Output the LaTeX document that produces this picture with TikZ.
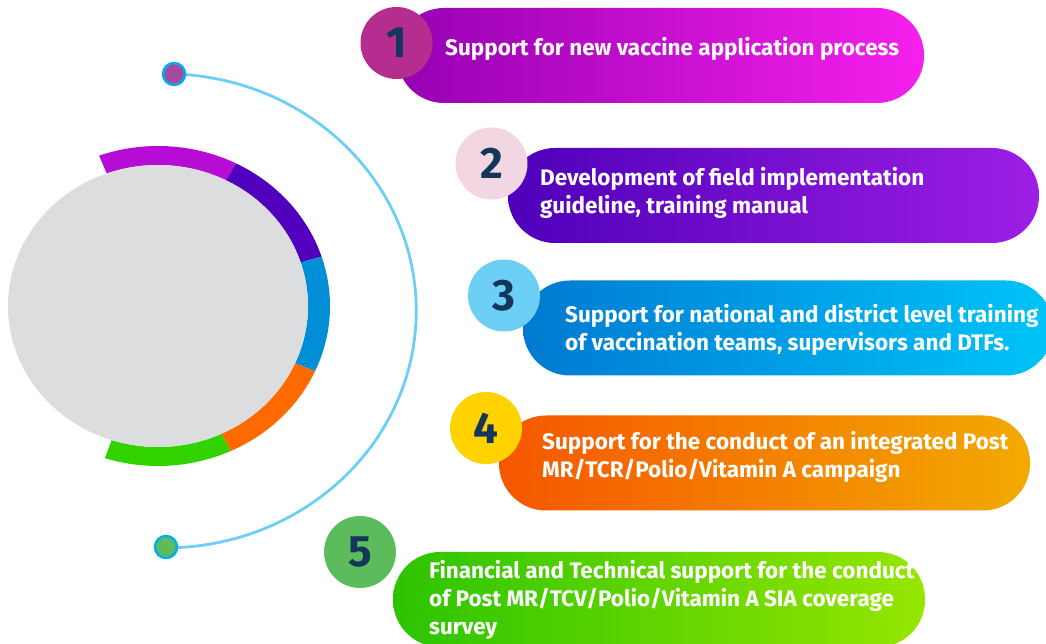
\documentclass[tikz,border=0pt]{standalone}
\usepackage{fontspec}
\setmainfont{Fira Sans}
\usetikzlibrary{calc}

\definecolor{ringmag}{HTML}{B70BD6}
\definecolor{ringpur}{HTML}{5100BD}
\definecolor{ringblu}{HTML}{008FD6}
\definecolor{ringora}{HTML}{FF6A00}
\definecolor{ringgrn}{HTML}{31D400}
\definecolor{discgrey}{HTML}{DCDDDF}
\definecolor{arcblue}{HTML}{6DCFF6}
\definecolor{dotrim}{HTML}{00AEEF}
\definecolor{numtext}{HTML}{14365A}

% one coloured piece of the ring round the grey disc
\def\ringpart[#1](#2:#3){\fill[#1] ($(158,338)+({172*cos(#2)},{160*sin(#2)})$) arc[start angle=#2, end angle=#3, x radius=172, y radius=160] -- ($(158,338)+({150*cos(#3)},{141*sin(#3)})$) arc[start angle=#3, end angle=#2, x radius=150, y radius=141] -- cycle;}

\begin{document}
\begin{tikzpicture}[x=1pt, y=1pt,
		pill/.style={rectangle, rounded corners=47pt, minimum height=95pt, inner sep=0pt},
		numball/.style={circle, minimum size=72pt, inner sep=0pt, text=numtext, font=\bfseries\fontsize{44}{44}\selectfont},
		pilltext/.style={anchor=west, align=left, inner sep=0pt, text=white, font=\bfseries\fontsize{22.5}{28}\selectfont},
		enddot/.style={circle, minimum size=22pt, inner sep=0pt, draw=dotrim, line width=2.5pt}]
				%%%%% START %%%%%
				\useasboundingbox (0, 0) rectangle (1046, 644);
				\fill[white] (0, 0) rectangle (1046, 644);
				
				% ring and disc
				\ringpart[ringmag](110:63);
				\ringpart[ringpur](63:18);
				\ringpart[ringblu](18:-24);
				\ringpart[ringora](-24:-65);
				\ringpart[ringgrn](-65:-108);
				\fill[discgrey] (158, 338) ellipse [x radius=150, y radius=141];
				
				% outer arc with its two end dots
				\coordinate (dotA) at (174, 570);
				\coordinate (dotB) at (166, 97);
				\draw[arcblue, line width=2.8pt] (dotA) arc[start angle=88, end angle=-90, x radius=251, y radius=237];
				\node[enddot, fill={rgb,255:red,166;green,75;blue,158}] (endA) at (dotA) {};
				\node[enddot, fill={rgb,255:red,93;green,187;blue,91}] (endB) at (dotB) {};
				
				% pills
				\node[pill, minimum width=527pt, left color={rgb,255:red,150;green,0;blue,178}, right color={rgb,255:red,246;green,32;blue,236}] (p1) at (660.5, 588.5) {};
				\node[pill, minimum width=531pt, left color={rgb,255:red,78;green,0;blue,186}, right color={rgb,255:red,158;green,30;blue,228}] (p2) at (773.5, 448.5) {};
				\node[pill, minimum width=530pt, left color={rgb,255:red,0;green,122;blue,210}, right color={rgb,255:red,0;green,196;blue,248}] (p3) at (788, 316) {};
				\node[pill, minimum width=531pt, left color={rgb,255:red,246;green,86;blue,0}, right color={rgb,255:red,242;green,170;blue,0}] (p4) at (764.5, 181) {};
				\node[pill, minimum width=532pt, left color={rgb,255:red,44;green,196;blue,0}, right color={rgb,255:red,150;green,230;blue,0}] (p5) at (659, 44.5) {};
				
				% numbers
				\node[numball, fill={rgb,255:red,181;green,46;blue,143}] (n1) at (396.5, 601) {1};
				\node[numball, fill={rgb,255:red,242;green,215;blue,226}] (n2) at (491.5, 480.5) {2};
				\node[numball, fill={rgb,255:red,109;green,207;blue,246}] (n3) at (504, 348.5) {3};
				\node[numball, fill={rgb,255:red,255;green,210;blue,0}] (n4) at (486, 216) {4};
				\node[numball, fill={rgb,255:red,92;green,187;blue,90}] (n5) at (360, 92) {5};
				
				% texts
				\node[pilltext] (t1) at (445, 594.75) {Support for new vaccine application process};
				\node[pilltext] (t2) at (540, 450.75) {Development of field implementation\\guideline, training manual};
				\node[pilltext] (t3) at (565, 314.25) {Support for national and district level training\\of vaccination teams, supervisors and DTFs.};
				\node[pilltext] (t4) at (542, 187.25) {Support for the conduct of an integrated Post\\MR/TCR/Polio/Vitamin A campaign};
				\node[pilltext] (t5) at (429, 44.25) {Financial and Technical support for the conduct\\of Post MR/TCV/Polio/Vitamin A SIA coverage\\survey};
				%%%%% END %%%%%
			\end{tikzpicture}
\end{document}
